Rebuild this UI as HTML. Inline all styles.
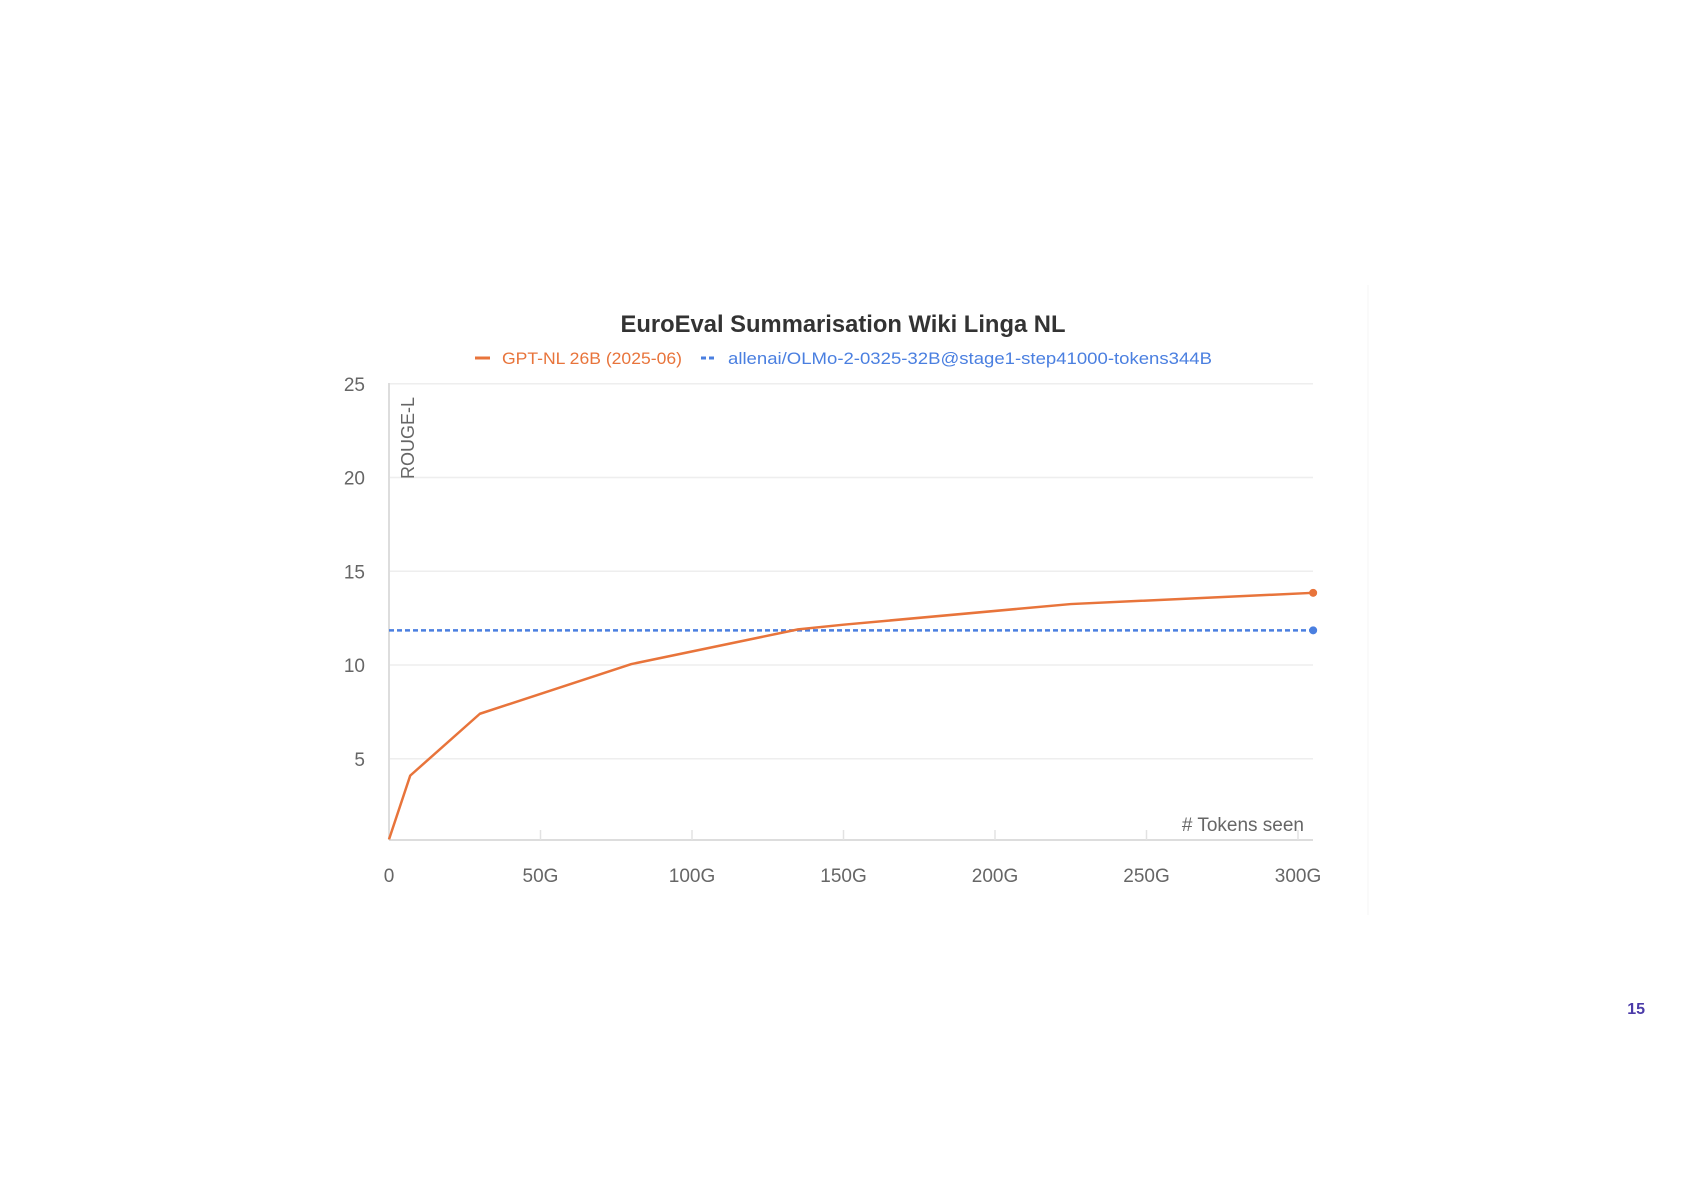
<!DOCTYPE html>
<html><head><meta charset="utf-8"><style>
html,body{margin:0;padding:0;background:#fff;}
body{width:1684px;height:1191px;overflow:hidden;position:relative;font-family:"Liberation Sans",sans-serif;}
</style></head><body>
<svg id="chart" width="1684" height="1191" style="position:absolute;left:0;top:0">
<line x1="1368" y1="285" x2="1368" y2="915" stroke="#f4f4f4" stroke-width="1"/>
<text x="843" y="332" text-anchor="middle" font-size="24" font-weight="bold" fill="#333" textLength="445" lengthAdjust="spacingAndGlyphs">EuroEval Summarisation Wiki Linga NL</text>
<g>
<line x1="475" y1="358" x2="490" y2="358" stroke="#e8743b" stroke-width="3"/>
<text x="502" y="364" font-size="17" fill="#e8743b" textLength="180" lengthAdjust="spacingAndGlyphs">GPT-NL 26B (2025-06)</text>
<line x1="701" y1="358" x2="717" y2="358" stroke="#4a7fe0" stroke-width="3" stroke-dasharray="5,3"/>
<text x="728" y="364" font-size="17" fill="#4a7fe0" textLength="484" lengthAdjust="spacingAndGlyphs">allenai/OLMo-2-0325-32B@stage1-step41000-tokens344B</text>
</g>
<g id="grid"></g><g id="axes"></g><g id="series"></g>
<text transform="translate(414,438) rotate(-90)" text-anchor="middle" font-size="18" fill="#666">ROUGE-L</text>
<text x="1304" y="831" text-anchor="end" font-size="19" fill="#666"># Tokens seen</text>
<text x="1645" y="1014" text-anchor="end" font-size="16" font-weight="bold" fill="#4a3aa8">15</text>
</svg>
<script>
const xTicks=[0,50,100,150,200,250,300];
const xTickLabels=["0","50G","100G","150G","200G","250G","300G"];
const yTicks=[5,10,15,20,25];
const gptX=[0,7,30,80,135,150,225,305];
const gptY=[0.7,4.1,7.4,10.05,11.9,12.15,13.25,13.85];
const olmoX=[0,305];
const olmoY=[11.85,11.85];
const X=v=>389+v*(1298-389)/300;
const Y=v=>852.5-v*18.75;
const NS="http://www.w3.org/2000/svg";
function mk(parent,tag,attrs){const e=document.createElementNS(NS,tag);for(const k in attrs)e.setAttribute(k,attrs[k]);document.getElementById(parent).appendChild(e);return e;}
yTicks.forEach(t=>{
 const l=mk('grid','line',{x1:389,x2:1313,y1:Y(t),y2:Y(t),stroke:'#eeeeee','stroke-width':1.5});
 
 
 const tx=mk('axes','text',{x:365,y:Y(t)+7,'text-anchor':'end','font-size':19,fill:'#666'});
 tx.textContent=t;
 
 
});
const ax=mk('axes','line',{x1:389,x2:1313,y1:840,y2:840,stroke:'#ddd','stroke-width':2});


const ay=mk('axes','line',{x1:389,x2:389,y1:383,y2:840,stroke:'#ddd','stroke-width':2});


xTicks.forEach((t,i)=>{
 const l=mk('axes','line',{x1:X(t),x2:X(t),y1:830,y2:840,stroke:'#e2e2e2','stroke-width':1.5});
 
 
 const tx=mk('axes','text',{x:X(t),y:882,'text-anchor':'middle','font-size':19,fill:'#666'});
 tx.textContent=xTickLabels[i];
 
 
});
const op=mk('series','polyline',{points:olmoX.map((x,i)=>X(x)+','+Y(olmoY[i])).join(' '),fill:'none',stroke:'#4a7fe0','stroke-width':2.5,'stroke-dasharray':'5,3'});


const od=mk('series','circle',{cx:X(olmoX[olmoX.length-1]),cy:Y(olmoY[olmoY.length-1]),r:4,fill:'#4a7fe0'});


const gp=mk('series','polyline',{points:gptX.map((x,i)=>X(x)+','+Y(gptY[i])).join(' '),fill:'none',stroke:'#e8743b','stroke-width':2.5,'stroke-linejoin':'round'});


const gd=mk('series','circle',{cx:X(gptX[gptX.length-1]),cy:Y(gptY[gptY.length-1]),r:4,fill:'#e8743b'});


</script>
</body></html>
